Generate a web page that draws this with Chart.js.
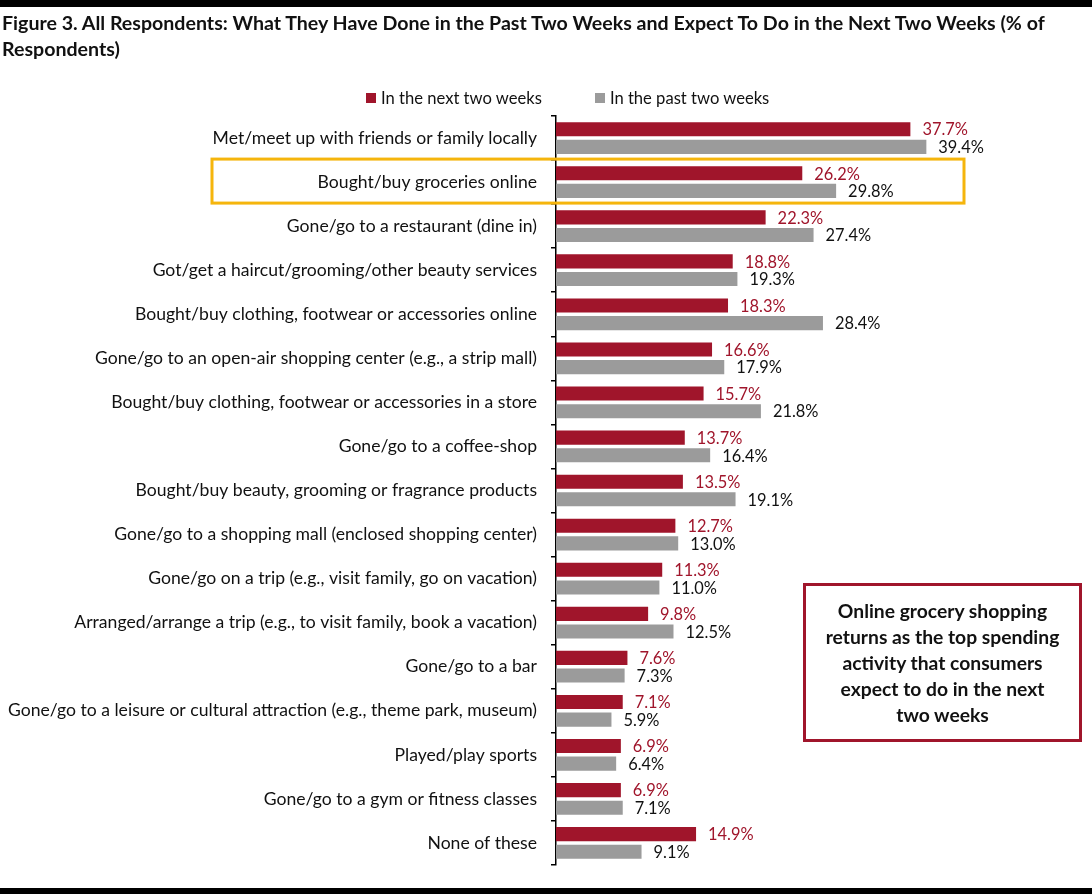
<!DOCTYPE html>
<html lang="en">
<head>
    <meta charset="UTF-8">
    <title>Figure 3</title>
    <script src="https://cdn.jsdelivr.net/npm/chart.js"></script>
    <style>
        body { margin: 0; background: #fff; overflow: hidden; }
        #wrap { position: relative; width: 1092px; height: 894px; font-family: Lato, "Open Sans", sans-serif; }
        #topLine { position: absolute; left: 0; top: 0; width: 1092px; height: 7px; background: #000; }
        #bottomLine { position: absolute; left: 0; top: 888px; width: 1092px; height: 6px; background: #000; }
        #title { position: absolute; left: 2px; top: 10px; width: 1080px; font-weight: bold; font-size: 19.6px; line-height: 26px; color: #111; }
        #legend { position: absolute; top: 88px; left: 366px; font-size: 16.6px; color: #111; display: flex; }
        #legend span.item { display: flex; align-items: center; margin-right: 53px; }
        #legend span.box { display: inline-block; width: 10px; height: 10px; margin-right: 5px; }
        #callout { position: absolute; left: 803px; top: 583px; width: 273px; height: 153px; border: 3px solid #A0152B;
                   font-weight: bold; font-size: 19.3px; line-height: 26px; text-align: center; color: #111;
                   display: flex; align-items: center; justify-content: center; }
        canvas { position: absolute; left: 0; top: 0; }
    </style>
</head>
<body>
<div id="wrap">
    <canvas id="chart" width="1092" height="894"></canvas>
    <div id="topLine"></div>
    <div id="title">Figure 3. All Respondents: What They Have Done in the Past Two Weeks and Expect To Do in the Next Two Weeks (% of Respondents)</div>
    <div id="legend"></div>
    <div id="callout">Online grocery shopping<br>returns as the top spending<br>activity that consumers<br>expect to do in the next<br>two weeks</div>
    <div id="bottomLine"></div>
</div>
<script>
    const categories = [
        'Met/meet up with friends or family locally',
        'Bought/buy groceries online',
        'Gone/go to a restaurant (dine in)',
        'Got/get a haircut/grooming/other beauty services',
        'Bought/buy clothing, footwear or accessories online',
        'Gone/go to an open-air shopping center (e.g., a strip mall)',
        'Bought/buy clothing, footwear or accessories in a store',
        'Gone/go to a coffee-shop',
        'Bought/buy beauty, grooming or fragrance products',
        'Gone/go to a shopping mall (enclosed shopping center)',
        'Gone/go on a trip (e.g., visit family, go on vacation)',
        'Arranged/arrange a trip (e.g., to visit family, book a vacation)',
        'Gone/go to a bar',
        'Gone/go to a leisure or cultural attraction (e.g., theme park, museum)',
        'Played/play sports',
        'Gone/go to a gym or fitness classes',
        'None of these'
    ];
    const nextTwoWeeks = [37.7, 26.2, 22.3, 18.8, 18.3, 16.6, 15.7, 13.7, 13.5, 12.7, 11.3, 9.8, 7.6, 7.1, 6.9, 6.9, 14.9];
    const pastTwoWeeks = [39.4, 29.8, 27.4, 19.3, 28.4, 17.9, 21.8, 16.4, 19.1, 13.0, 11.0, 12.5, 7.3, 5.9, 6.4, 7.1, 9.1];
    const seriesNames = ['In the next two weeks', 'In the past two weeks'];
    const highlightIndex = 1;

    const RED = '#A0152B';
    const GRAY = '#9B9B9B';
    const FONT = 'Lato, "Open Sans", sans-serif';

    // html legend
    const legendEl = document.getElementById('legend');
    [[seriesNames[0], RED], [seriesNames[1], GRAY]].forEach(([name, col]) => {
        legendEl.innerHTML += '<span class="item"><span class="box" style="background:' + col + '"></span>' + name + '</span>';
    });

    // value labels next to bar ends
    const valueLabels = {
        id: 'valueLabels',
        afterDatasetsDraw(chart) {
            const ctx = chart.ctx;
            ctx.save();
            ctx.font = '16.4px ' + FONT;
            ctx.textBaseline = 'middle';
            ctx.textAlign = 'left';
            chart.data.datasets.forEach((ds, i) => {
                ctx.fillStyle = i === 0 ? RED : '#111';
                chart.getDatasetMeta(i).data.forEach((bar, j) => {
                    ctx.fillText(ds.data[j].toFixed(1) + '%', bar.x + 12, bar.y + 1);
                });
            });
            ctx.restore();
        }
    };

    // orange box around highlighted category
    const highlight = {
        id: 'highlight',
        afterDraw(chart) {
            const y = chart.scales.y;
            const cy = y.getPixelForValue(highlightIndex);
            const ctx = chart.ctx;
            ctx.save();
            ctx.strokeStyle = '#F5B50C';
            ctx.lineWidth = 3;
            ctx.strokeRect(212, cy - 23, 752, 44);
            ctx.restore();
        }
    };

    new Chart(document.getElementById('chart'), {
        type: 'bar',
        data: {
            labels: categories,
            datasets: [
                { label: seriesNames[0], data: nextTwoWeeks, backgroundColor: RED },
                { label: seriesNames[1], data: pastTwoWeeks, backgroundColor: GRAY }
            ]
        },
        options: {
            indexAxis: 'y',
            responsive: false,
            animation: false,
            layout: { padding: { top: 116, bottom: 29, left: 0, right: 66 } },
            datasets: { bar: { categoryPercentage: 0.8, barPercentage: 0.8 } },
            plugins: { legend: { display: false }, tooltip: { enabled: false } },
            scales: {
                x: { display: false, min: 0, max: 50 },
                y: {
                    afterFit: s => { s.width = 556; },
                    border: { display: true, color: '#000', width: 1.5 },
                    grid: { drawOnChartArea: false, drawTicks: true, tickLength: 5, color: '#000', lineWidth: 1.5 },
                    ticks: { color: '#111', padding: 14, font: { family: FONT, size: 17.6 } }
                }
            }
        },
        plugins: [valueLabels, highlight]
    });
</script>
</body>
</html>
